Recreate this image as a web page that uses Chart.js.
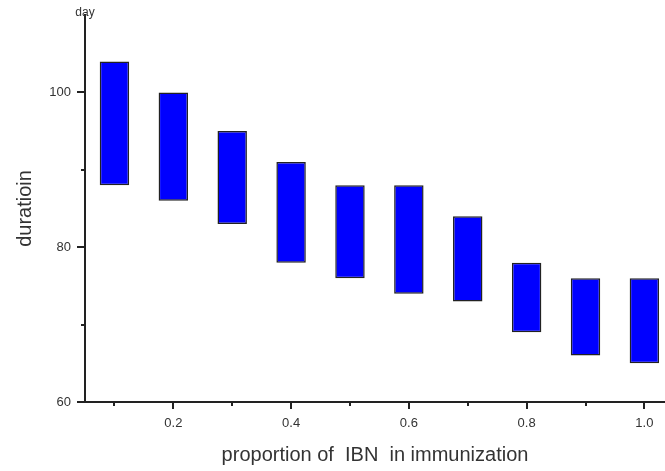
<!DOCTYPE html>
<html>
<head>
<meta charset="utf-8">
<script src="https://cdn.jsdelivr.net/npm/chart.js@4"></script>
<style>
  html, body { margin: 0; padding: 0; background: #fff; overflow: hidden; }
  #wrap { width: 665px; height: 471px; }
</style>
</head>
<body>
<div id="wrap"><canvas id="chart" width="665" height="471"></canvas></div>
<script>
// proportion of IBN in immunization
const proportions = [0.1, 0.2, 0.3, 0.4, 0.5, 0.6, 0.7, 0.8, 0.9, 1.0];
// duration range (day)
const lowValues  = [88, 86, 83, 78, 76, 74, 73, 69, 66, 65];
const highValues = [104, 100, 95, 91, 88, 88, 84, 78, 76, 76];

const xMajorTicks = [0.2, 0.4, 0.6, 0.8, 1.0];
const xMinorTicks = [0.1, 0.3, 0.5, 0.7, 0.9];
const yMajorTicks = [60, 80, 100];
const yMinorTicks = [70, 90];

const ink = '#222';
const textColor = '#333';
const fontFamily = '"Liberation Sans", Arial, sans-serif';

// tick marks (major + minor), placed through the scales
const tickMarks = {
  id: 'tickMarks',
  afterDraw(chart) {
    const ctx = chart.ctx;
    const xs = chart.scales.x, ys = chart.scales.y;
    const area = chart.chartArea;
    const xLine = (v, len) => {
      const px = Math.round(xs.getPixelForValue(v));
      ctx.moveTo(px, area.bottom);
      ctx.lineTo(px, area.bottom + len);
    };
    const yLine = (v, len) => {
      const py = Math.round(ys.getPixelForValue(v));
      ctx.moveTo(area.left, py);
      ctx.lineTo(area.left - len, py);
    };
    ctx.save();
    ctx.strokeStyle = ink;
    ctx.lineWidth = 2;
    ctx.beginPath();
    xMajorTicks.forEach(v => xLine(v, 7));
    yMajorTicks.forEach(v => yLine(v, 8));
    xMinorTicks.forEach(v => xLine(v, 4));
    yMinorTicks.forEach(v => yLine(v, 4));
    ctx.stroke();
    // unit label above the y axis
    ctx.fillStyle = textColor;
    ctx.font = '12px ' + fontFamily;
    ctx.textAlign = 'center';
    ctx.textBaseline = 'middle';
    ctx.fillText('day', area.left, area.top - 2);
    ctx.restore();
  }
};

new Chart(document.getElementById('chart'), {
  type: 'bar',
  data: {
    datasets: [{
      data: proportions.map((p, i) => ({ x: p, y: [lowValues[i], highValues[i]] })),
      backgroundColor: '#0000ff',
      borderColor: ink,
      borderWidth: 1.5,
      borderSkipped: false,
      barPercentage: 0.5,
      categoryPercentage: 1.0
    }]
  },
  options: {
    responsive: false,
    animation: false,
    layout: { padding: { top: 15, right: 0, left: 0, bottom: 0 } },
    plugins: { legend: { display: false }, tooltip: { enabled: false } },
    scales: {
      x: {
        type: 'linear',
        offset: false,
        min: 0.05,
        max: 1.035,
        afterBuildTicks: s => { s.ticks = xMajorTicks.map(v => ({ value: v })); },
        afterFit: s => { s.height = 69; },
        grid: { offset: false, drawOnChartArea: false, drawTicks: true, tickLength: 7, tickColor: 'rgba(0,0,0,0)' },
        border: { display: true, color: ink, width: 2 },
        ticks: {
          color: textColor,
          padding: 7,
          maxRotation: 0,
          font: { family: fontFamily, size: 13 },
          callback: v => v.toFixed(1)
        },
        title: {
          display: true,
          text: 'proportion of  IBN  in immunization',
          color: textColor,
          font: { family: fontFamily, size: 20 },
          padding: { top: 0, bottom: 4 }
        }
      },
      y: {
        min: 60,
        max: 110,
        afterBuildTicks: s => { s.ticks = yMajorTicks.map(v => ({ value: v })); },
        afterFit: s => { s.width = 85; },
        grid: { offset: false, drawOnChartArea: false, drawTicks: true, tickLength: 8, tickColor: 'rgba(0,0,0,0)' },
        border: { display: true, color: ink, width: 2 },
        ticks: {
          color: textColor,
          padding: 6,
          font: { family: fontFamily, size: 13 }
        },
        title: {
          display: true,
          text: 'duratioin',
          color: textColor,
          font: { family: fontFamily, size: 20 },
          padding: { top: 13, bottom: 0 }
        }
      }
    }
  },
  plugins: [tickMarks]
});
</script>
</body>
</html>
